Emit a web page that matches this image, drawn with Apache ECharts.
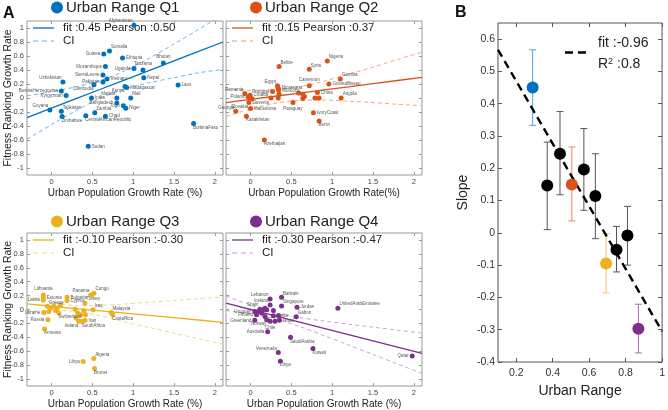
<!DOCTYPE html>
<html><head><meta charset="utf-8">
<script src="https://cdn.jsdelivr.net/npm/echarts@6/dist/echarts.min.js"></script>
<style>html,body{margin:0;padding:0;background:#fff}#c{width:668px;height:410px}</style>
</head><body><div id="c"></div>
<script>
// ---------------- DATA ----------------
const xTicksA = [0, 0.5, 1, 1.5, 2];
const yTicksA = [-1, -0.8, -0.6, -0.4, -0.2, 0, 0.2, 0.4, 0.6, 0.8, 1];
const xTicksB = [0.2, 0.4, 0.6, 0.8, 1];
const yTicksB = [-0.4, -0.3, -0.2, -0.1, 0, 0.1, 0.2, 0.3, 0.4, 0.5, 0.6];

const titles = ['Urban Range Q1', 'Urban Range Q2', 'Urban Range Q3', 'Urban Range Q4'];
const fitLabels = ['fit :0.45 Pearson :0.50', 'fit :0.15 Pearson :0.37', 'fit :-0.10 Pearson :-0.30', 'fit :-0.30 Pearson :-0.47'];
const xNames = ['Urban Population Growth Rate (%)', 'Urban Population Growth Rate(%)', 'Urban Population Growth Rate (%)', 'Urban Population Growth Rate (%)'];
const yNameA = 'Fitness Ranking Growth Rate';

const q1Names = ['Afghanistan','Somalia','Guinea','Ethiopia','Bhutan','Mozambique','Uganda','Tanzania','SierraLeone','Vietnam','Pakistan','Nepal','Uzbekistan','Cambodia','Madagascar','Kenya','BosniaHerzegovina','Laos','Kyrgyzstan','India','Mali','Malawi','Bangladesh','Togo','Niger','Guyana','Tajikistan','Zambia','Zimbabwe','Chad','CentralAfricanRepublic','BurkinaFaso','Sudan'];
const q1X = [1.01,0.71,0.64,0.87,1.37,0.66,1.01,1.12,0.63,0.68,0.63,1.13,0.14,0.52,0.92,0.90,0.12,1.55,0.18,0.49,0.97,0.80,0.80,0.88,0.91,-0.02,0.12,0.53,0.13,0.66,0.42,1.74,0.45];
const q1Y = [1.04,0.67,0.63,0.57,0.50,0.45,0.42,0.40,0.33,0.27,0.23,0.29,0.23,0.19,0.15,0.165,0.10,0.185,0.036,0.0,0.0,0.0,-0.07,-0.11,-0.145,-0.17,-0.19,-0.21,-0.265,-0.26,-0.255,-0.365,-0.69];

const q2Names = ['Nigeria','Belize','Syria','Gambia','GuineaBissau','Cameroon','Egypt','Nicaragua','Morocco','Portugal','Romania','China','Croatia','Poland','Slovenia','Slovakia','Georgia','Macedonia','Kazakhstan','Paraguay','IvoryCoast','Benin','Azerbaijan','Angola','','','','','','','','',''];
const q2X = [0.94,0.35,0.72,1.10,0.96,0.72,0.33,0.34,0.345,0.27,-0.07,0.82,-0.005,-0.03,0.02,-0.02,-0.18,0.0,-0.05,0.52,0.77,0.84,0.17,1.11,0.59,0.64,0.66,0.64,0.79,0.84,0.25,0.34,0.35];
const q2Y = [0.53,0.45,0.41,0.27,0.20,0.175,0.175,0.14,0.11,0.094,0.065,0.08,0.04,0.017,-0.01,-0.065,-0.19,-0.15,-0.26,-0.065,-0.21,-0.33,-0.60,0.0,0.07,0.055,0.02,-0.007,0.0,0.0,0.0,0.0,0.055];

const q3Names = ['Lithuania','Estonia','Latvia','Greece','Panama','Congo','Bulgaria','Cyprus','Turkey','Iraq','Malaysia','CostaRica','Ukraine','Russia','Armenia','Switzerland','Ireland','Iran','SouthAfrica','Libya','Algeria','Brunei','','','','','','','','','','','',''];
const q3X = [-0.10,-0.10,-0.10,-0.05,0.48,0.52,0.19,0.19,0.41,0.51,0.73,0.75,-0.094,-0.045,-0.086,0.09,0.335,0.41,0.375,0.388,0.518,0.527,-0.012,0.029,0.069,0.11,-0.033,0.049,0.29,0.32,0.355,0.396,0.416,0.30];
const q3Y = [0.21,0.17,0.135,0.045,0.21,0.235,0.175,0.128,0.09,-0.005,-0.043,-0.076,-0.043,-0.147,-0.28,-0.05,-0.17,-0.156,-0.17,-0.749,-0.706,-0.848,0.019,0.052,0.019,0.066,-0.028,-0.014,0.005,-0.05,-0.076,-0.019,-0.076,-0.123];

const q4Names = ['Lebanon','Bahrain','Iceland','Singapore','Jordan','UnitedArabEmirates','Spain','Uruguay','Finland','Malta','Gabon','Greenland','Norway','Chile','Israel','Australia','SaudiArabia','Kuwait','Venezuela','Libya','Qatar','','','','','','','','',''];
const q4X = [0.24,0.38,0.24,0.38,0.57,1.07,0.115,0.053,0.074,0.28,0.56,0.053,0.198,0.24,0.354,0.21,0.49,0.765,0.34,0.366,1.98,0.095,0.136,0.156,0.177,0.198,0.28,0.30,0.342,0.177];
const q4Y = [0.15,0.175,0.066,0.052,0.033,0.019,0.005,-0.028,-0.076,-0.09,-0.104,-0.156,-0.147,-0.17,-0.156,-0.32,-0.40,-0.56,-0.62,-0.744,-0.668,-0.028,-0.052,-0.005,0.019,-0.005,-0.014,-0.17,-0.09,-0.1];

const ciX = [-0.3, 0, 0.3, 0.6, 0.9, 1.2, 1.5, 1.8, 2.1];
const q1Fit = [-0.28,-0.145,-0.01,0.125,0.26,0.395,0.53,0.665,0.8];
const q1CIUp = [0.03,0.09,0.16,0.25,0.39,0.57,0.77,0.98,1.19];
const q1CILo = [-0.59,-0.38,-0.18,0.0,0.13,0.22,0.29,0.36,0.41];
const q2Fit = [-0.065,-0.02,0.025,0.07,0.115,0.16,0.205,0.25,0.295];
const q2CIUp = [0.125,0.11,0.12,0.16,0.24,0.34,0.44,0.55,0.655];
const q2CILo = [-0.26,-0.16,-0.075,-0.035,-0.03,-0.045,-0.065,-0.09,-0.11];
const q3Fit = [0.08,0.047,0.014,-0.019,-0.052,-0.085,-0.118,-0.151,-0.184];
const q3CIUp = [0.19,0.105,0.055,0.06,0.08,0.105,0.13,0.155,0.18];
const q3CILo = [-0.03,-0.015,-0.025,-0.09,-0.18,-0.26,-0.34,-0.42,-0.50];
const q4Fit = [0.09,0,-0.09,-0.18,-0.27,-0.36,-0.45,-0.54,-0.63];
const q4CIUp = [0.195,0.064,-0.047,-0.116,-0.165,-0.21,-0.254,-0.297,-0.34];
const q4CILo = [-0.015,-0.064,-0.133,-0.244,-0.375,-0.51,-0.646,-0.783,-0.92];

const bRange = [0.29,0.37,0.44,0.505,0.571,0.634,0.693,0.75,0.81,0.87];
const bSlope = [0.45,0.147,0.245,0.15,0.196,0.114,-0.095,-0.052,-0.008,-0.297];
const bLow = [0.333,0.01,0.118,0.037,0.07,-0.018,-0.186,-0.121,-0.1,-0.372];
const bHigh = [0.567,0.281,0.376,0.266,0.323,0.245,-0.002,0.02,0.082,-0.221];
const bGroup = ['Q1','other','other','Q2','other','other','Q3','other','other','Q4'];
const bFitX = [0.1, 1.0];
const bFitY = [0.567, -0.305];
const bFitText = 'fit :-0.96';
const bR2Text = '0.8';

// ---------------- STYLE ----------------
const FONT = '"Liberation Sans", Arial, Helvetica, sans-serif';
const qColors = ['#0072BD', '#D95319', '#EDB120', '#7E2F8E'];
const ciColors = ['#5FAEE3', '#EE9B74', '#F3D27C', '#C49AD2'];
const bColors = {Q1:'#0072BD', Q2:'#D95319', Q3:'#EDB120', Q4:'#7E2F8E', other:'#000000'};
const bBarColors = {Q1:'#4FA3DB', Q2:'#EE8656', Q3:'#F2CA5C', Q4:'#A56CB5', other:'#555555'};
const gridsA = [
  {left:27, top:21, width:196, height:154},
  {left:226, top:21, width:196, height:154},
  {left:27, top:233, width:196, height:154},
  {left:226, top:233, width:196, height:154}
];
const gridB = {left:498, top:23, width:168, height:339};
const labelSide = [
  {Afghanistan:'tl',Somalia:'tr',Guinea:'l',Bhutan:'t',Mozambique:'l',Uganda:'l',Tanzania:'t',SierraLeone:'l',Pakistan:'l',Uzbekistan:'tl',Cambodia:'bl',Kenya:'bl',BosniaHerzegovina:'l',Kyrgyzstan:'l',Mali:'tr',Malawi:'tl',Bangladesh:'l',Togo:'l',Guyana:'tl',Tajikistan:'tr',Zambia:'tr',Zimbabwe:'br',CentralAfricanRepublic:'br',BurkinaFaso:'br'},
  {Nigeria:'tr',Belize:'tr',Syria:'tr',Gambia:'tr',Cameroon:'t',Egypt:'tl',Portugal:'l',Romania:'tl',Poland:'l',Slovenia:'br',Slovakia:'bl',Georgia:'tl',Kazakhstan:'br',Paraguay:'b',Benin:'br',Azerbaijan:'br',Angola:'tr'},
  {Lithuania:'t',Latvia:'l',Greece:'tr',Panama:'tl',Congo:'tr',Turkey:'tr',Iraq:'tr',Malaysia:'tr',CostaRica:'br',Ukraine:'l',Russia:'l',Armenia:'br',Switzerland:'br',Ireland:'bl',SouthAfrica:'br',Libya:'l',Algeria:'tr',Brunei:'br'},
  {Lebanon:'tl',Bahrain:'tr',Iceland:'tl',Singapore:'tr',UnitedArabEmirates:'tr',Spain:'tl',Uruguay:'l',Finland:'l',Gabon:'tr',Greenland:'l',Norway:'bl',Chile:'b',Australia:'l',SaudiArabia:'br',Kuwait:'br',Venezuela:'tl',Libya:'br',Qatar:'l'}
];
function labelFor(side) {
  switch (side) {
    case 'l': return {position:'left'};
    case 't': return {position:'top'};
    case 'b': return {position:'bottom'};
    case 'tr': return {position:'right', offset:[-2,-4]};
    case 'tl': return {position:'left', offset:[2,-4]};
    case 'br': return {position:'right', offset:[-4,4]};
    case 'bl': return {position:'left', offset:[3,4]};
    default: return {position:'right'};
  }
}
const fmt = v => String(+(+v).toFixed(2));

// ---------------- BUILD ----------------
const qNames = [q1Names, q2Names, q3Names, q4Names];
const qX = [q1X, q2X, q3X, q4X];
const qY = [q1Y, q2Y, q3Y, q4Y];
const qFit = [q1Fit, q2Fit, q3Fit, q4Fit];
const qUp = [q1CIUp, q2CIUp, q3CIUp, q4CIUp];
const qLo = [q1CILo, q2CILo, q3CILo, q4CILo];

const grids = [], xAxes = [], yAxes = [], series = [], graphics = [];
const noLine = {show:false, onZero:false};
const tickA = vals => ({show:true, inside:true, length:3, customValues:vals, lineStyle:{color:'#9a9a9a', width:1}});

gridsA.forEach((g, i) => {
  grids.push(Object.assign({show:true, borderColor:'#9a9a9a', borderWidth:1}, g));
  xAxes.push({gridIndex:i, type:'value', min:-0.3, max:2.1, position:'bottom',
    axisLine:noLine, splitLine:{show:false}, axisTick:tickA(xTicksA),
    axisLabel:{customValues:xTicksA, formatter:fmt, fontSize:7.5, color:'#444', margin:3, fontFamily:FONT},
    name:xNames[i], nameLocation:'middle', nameGap:13, nameMoveOverlap:false,
    nameTextStyle:{fontSize:10, color:'#222', fontFamily:FONT}});
  xAxes.push({gridIndex:i, type:'value', min:-0.3, max:2.1, position:'top',
    axisLine:noLine, splitLine:{show:false}, axisTick:tickA(xTicksA), axisLabel:{show:false}});
  const leftCol = (i % 2 === 0);
  yAxes.push({gridIndex:i, type:'value', min:-1.1, max:1.1, position:'left',
    axisLine:noLine, splitLine:{show:false}, axisTick:tickA(yTicksA),
    axisLabel:{show:leftCol, customValues:yTicksA, formatter:fmt, fontSize:7.5, color:'#444', margin:3, fontFamily:FONT},
    name:leftCol ? yNameA : '', nameLocation:'middle', nameGap:13, nameMoveOverlap:false,
    nameTextStyle:{fontSize:10.5, color:'#222', fontFamily:FONT}});
  yAxes.push({gridIndex:i, type:'value', min:-1.1, max:1.1, position:'right',
    axisLine:noLine, splitLine:{show:false}, axisTick:tickA(yTicksA), axisLabel:{show:false}});

  const xi = 2 * i, yi = 2 * i;
  [qUp[i], qLo[i]].forEach(arr => {
    series.push({type:'line', xAxisIndex:xi, yAxisIndex:yi, data:ciX.map((x, k) => [x, arr[k]]),
      showSymbol:false, smooth:0.3, clip:true, silent:true, z:2,
      lineStyle:{color:ciColors[i], width:0.9, type:[4,3]}});
  });
  series.push({type:'line', xAxisIndex:xi, yAxisIndex:yi, data:ciX.map((x, k) => [x, qFit[i][k]]),
    showSymbol:false, clip:true, silent:true, z:3,
    lineStyle:{color:qColors[i], width:1.3}});
  series.push({type:'scatter', xAxisIndex:xi, yAxisIndex:yi, symbolSize:5, z:4,
    itemStyle:{color:qColors[i], opacity:1},
    label:{show:true, formatter:'{b}', fontSize:4.5, color:'#555', fontFamily:FONT, distance:1, position:'right'},
    data:qNames[i].map((n, k) => ({name:n, value:[qX[i][k], qY[i][k]],
      label:Object.assign({show:n !== ''}, labelFor(labelSide[i][n])) }))});

  const row = i < 2 ? 0 : 1;
  const ty = row === 0 ? 7.5 : 221.5;
  graphics.push({type:'circle', shape:{cx:g.left + 30, cy:ty, r:6}, style:{fill:qColors[i]}});
  graphics.push({type:'text', x:g.left + 39, y:ty, style:{text:titles[i], font:'15px ' + FONT, fill:'#222', verticalAlign:'middle'}});
  graphics.push({type:'line', shape:{x1:g.left + 6, y1:g.top + 7, x2:g.left + 27, y2:g.top + 7}, style:{stroke:qColors[i], lineWidth:1.3}});
  graphics.push({type:'text', x:g.left + 36, y:g.top + 7, style:{text:fitLabels[i], font:'11.5px ' + FONT, fill:'#222', verticalAlign:'middle'}});
  graphics.push({type:'line', shape:{x1:g.left + 6, y1:g.top + 20, x2:g.left + 27, y2:g.top + 20}, style:{stroke:ciColors[i], lineWidth:1, lineDash:[5,4]}});
  graphics.push({type:'text', x:g.left + 36, y:g.top + 20, style:{text:'CI', font:'11.5px ' + FONT, fill:'#222', verticalAlign:'middle'}});
});

// Panel B
const bi = 4;
grids.push(Object.assign({show:true, borderColor:'#555', borderWidth:1}, gridB));
const tickB = vals => ({show:true, inside:true, length:4, customValues:vals, lineStyle:{color:'#555', width:1}});
xAxes.push({gridIndex:bi, type:'value', min:0.1, max:1.0, position:'bottom',
  axisLine:noLine, splitLine:{show:false}, axisTick:tickB(xTicksB),
  axisLabel:{customValues:xTicksB, formatter:fmt, fontSize:10.5, color:'#333', margin:6, fontFamily:FONT},
  name:'Urban Range', nameLocation:'middle', nameGap:22, nameTextStyle:{fontSize:14, color:'#222', fontFamily:FONT}});
xAxes.push({gridIndex:bi, type:'value', min:0.1, max:1.0, position:'top',
  axisLine:noLine, splitLine:{show:false}, axisTick:tickB(xTicksB), axisLabel:{show:false}});
yAxes.push({gridIndex:bi, type:'value', min:-0.4, max:0.65, position:'left',
  axisLine:noLine, splitLine:{show:false}, axisTick:tickB(yTicksB),
  axisLabel:{customValues:yTicksB, formatter:fmt, fontSize:10.5, color:'#333', margin:3, fontFamily:FONT},
  name:'Slope', nameLocation:'middle', nameGap:28, nameTextStyle:{fontSize:14, color:'#222', fontFamily:FONT}});
yAxes.push({gridIndex:bi, type:'value', min:-0.4, max:0.65, position:'right',
  axisLine:noLine, splitLine:{show:false}, axisTick:tickB(yTicksB), axisLabel:{show:false}});

const groupKeys = ['Q1','Q2','Q3','Q4','other'];
series.push({type:'custom', xAxisIndex:8, yAxisIndex:8, z:2, silent:true,
  encode:{x:0, y:[1,2]},
  data:bRange.map((x, k) => [x, bLow[k], bHigh[k], groupKeys.indexOf(bGroup[k])]),
  renderItem:(params, api) => {
    const x = api.value(0), lo = api.value(1), hi = api.value(2);
    const col = bBarColors[groupKeys[api.value(3)]];
    const p1 = api.coord([x, lo]), p2 = api.coord([x, hi]);
    const cw = 3.5;
    const st = {stroke:col, lineWidth:1};
    return {type:'group', children:[
      {type:'line', shape:{x1:p1[0], y1:p1[1], x2:p2[0], y2:p2[1]}, style:st},
      {type:'line', shape:{x1:p1[0]-cw, y1:p1[1], x2:p1[0]+cw, y2:p1[1]}, style:st},
      {type:'line', shape:{x1:p2[0]-cw, y1:p2[1], x2:p2[0]+cw, y2:p2[1]}, style:st}
    ]};
  }});
series.push({type:'line', xAxisIndex:8, yAxisIndex:8, z:3, silent:true, showSymbol:false, clip:true,
  data:bFitX.map((x, k) => [x, bFitY[k]]),
  lineStyle:{color:'#000', width:2.4, type:[8,5]}});
series.push({type:'scatter', xAxisIndex:8, yAxisIndex:8, z:4, symbolSize:12,
  data:bRange.map((x, k) => ({value:[x, bSlope[k]], itemStyle:{color:bColors[bGroup[k]], opacity:1}}))});

graphics.push({type:'line', shape:{x1:565, y1:52.5, x2:591, y2:52.5}, style:{stroke:'#000', lineWidth:2.4, lineDash:[8,5]}});
graphics.push({type:'text', x:598, y:43, style:{text:bFitText, font:'14px ' + FONT, fill:'#222', verticalAlign:'middle'}});
graphics.push({type:'text', x:598, y:64, style:{text:'R{s|2} :' + bR2Text, font:'14px ' + FONT, fill:'#222', verticalAlign:'middle',
  rich:{s:{fontSize:9, verticalAlign:'top', fontFamily:FONT, fill:'#222'}}}});
graphics.push({type:'text', x:3, y:14, style:{text:'A', font:'bold 16px ' + FONT, fill:'#111', verticalAlign:'middle'}});
graphics.push({type:'text', x:455, y:12.5, style:{text:'B', font:'bold 16px ' + FONT, fill:'#111', verticalAlign:'middle'}});

const chart = echarts.init(document.getElementById('c'), null, {renderer:'canvas', width:668, height:410});
chart.setOption({
  animation:false,
  backgroundColor:'#fff',
  grid:grids, xAxis:xAxes, yAxis:yAxes, series:series,
  graphic:{elements:graphics}
});
</script>
</body></html>
